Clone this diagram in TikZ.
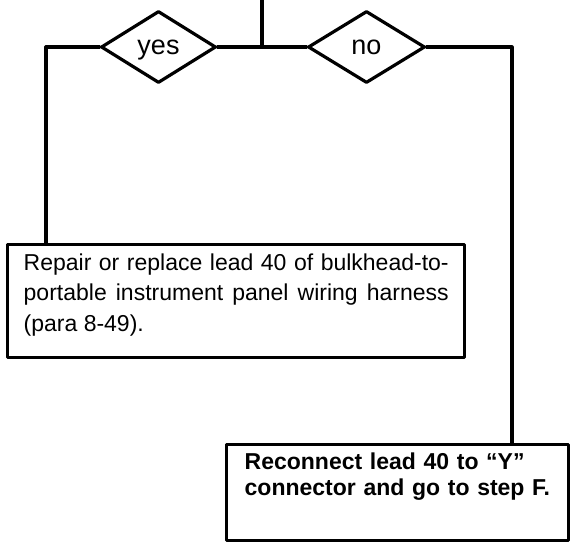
\documentclass[tikz,border=0pt]{standalone}
\usepackage{fontspec}
\setmainfont{Liberation Sans}
\usetikzlibrary{shapes.geometric}

\begin{document}
\begin{tikzpicture}[x=1pt, y=-1pt, line cap=round, line join=round,
    flowline/.style={line width=3.2pt},
    choice/.style={diamond, draw, line width=3.2pt, inner sep=0pt,
        text height=14pt, text depth=0pt, font=\fontsize{27}{30}\selectfont},
    actionbox/.style={rectangle, draw, line width=3.4pt, anchor=north west}]

    % Marco de la figura
    \useasboundingbox (0,0) rectangle (576,542);

    % Rombos de decision
    \node[choice, minimum width=115pt, minimum height=72pt] (yes) at (158.5,47) {yes};
    \node[choice, minimum width=117pt, minimum height=72pt] (no) at (366.5,47) {no};

    % Cajas de accion
    \node[actionbox, text width=425pt, inner xsep=16pt, inner ysep=9pt,
        text depth=78pt, align=justify, font=\fontsize{23}{30.5}\selectfont] (repair) at (6,243)
        {Repair or replace lead 40 of bulkhead-to-\linebreak
         portable instrument panel wiring harness\linebreak
         (para 8-49).};

    \node[actionbox, text width=306pt, inner xsep=18pt, inner ysep=8pt,
        text depth=63pt, align=left, font=\fontsize{23}{26}\selectfont\bfseries] (reconnect) at (225,443)
        {Reconnect lead 40 to ``Y''\\
         connector and go to step F.};

    % Puntos de quiebre
    \coordinate (inlet) at (262,0);
    \coordinate (yturn) at (46,47);
    \coordinate (nturn) at (512,47);

    % Lineas de flujo
    \draw[flowline] (inlet) -- (inlet |- yes.east);
    \draw[flowline] (yes.east) -- (no.west);
    \draw[flowline] (yes.west) -- (yturn) -- (yturn |- repair.north);
    \draw[flowline] (no.east) -- (nturn) -- (nturn |- reconnect.north);

\end{tikzpicture}
\end{document}
